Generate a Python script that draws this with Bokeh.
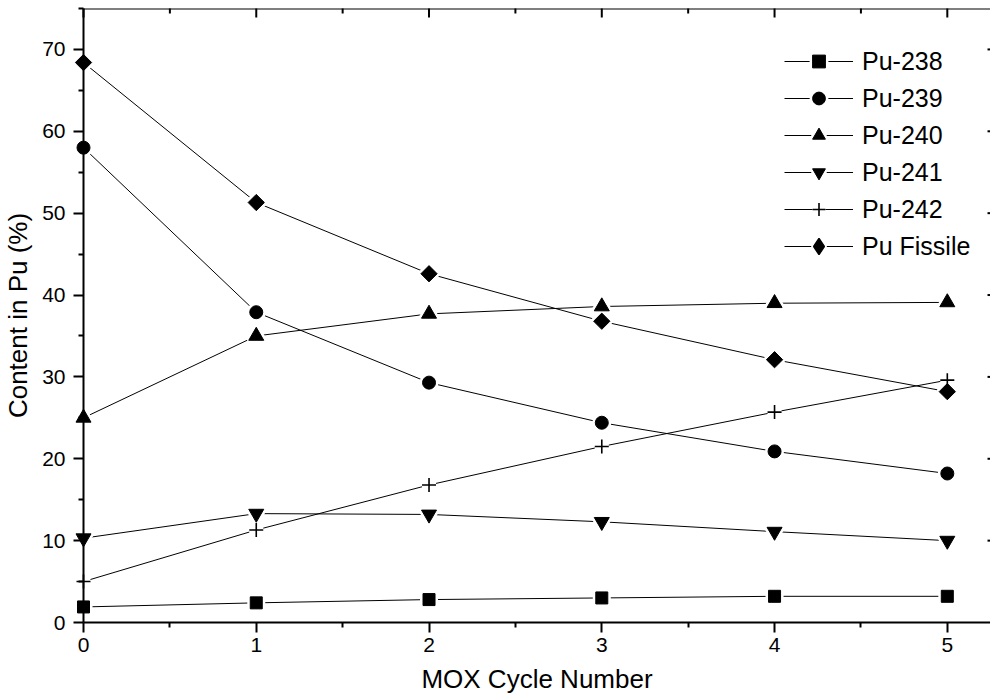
from bokeh.plotting import figure
from bokeh.models import Range1d, Legend, LegendItem, FixedTicker, Span
from bokeh.embed import file_html
from bokeh.resources import INLINE
import numpy as np

# Plutonium isotopic vector versus MOX recycling number
cycles = [0, 1, 2, 3, 4, 5]
pu238 = [1.9, 2.4, 2.8, 3.0, 3.2, 3.2]
pu239 = [58.0, 37.9, 29.3, 24.4, 20.9, 18.2]
pu240 = [25.0, 35.0, 37.7, 38.6, 39.0, 39.1]
pu241 = [10.3, 13.3, 13.2, 12.3, 11.1, 10.0]
pu242 = [5.0, 11.3, 16.8, 21.5, 25.7, 29.6]
pu_fissile = [68.4, 51.3, 42.6, 36.8, 32.1, 28.2]

series_names = ["Pu-238", "Pu-239", "Pu-240", "Pu-241", "Pu-242", "Pu Fissile"]
series_values = [pu238, pu239, pu240, pu241, pu242, pu_fissile]

# axis ticks
x_ticks = [0, 1, 2, 3, 4, 5]
x_minor_ticks = [0.5, 1.5, 2.5, 3.5, 4.5]
y_ticks = [0, 10, 20, 30, 40, 50, 60, 70]
y_minor_ticks = [5, 15, 25, 35, 45, 55, 65, 75]

X_MAX = 5.25
Y_MAX = 75

FONT = "Liberation Sans"

W, H = 990, 700
BORDER_L, BORDER_R, BORDER_T, BORDER_B = 82, 0, 8, 78
frame_w = W - BORDER_L - BORDER_R
frame_h = H - BORDER_T - BORDER_B
# data units per screen pixel, for the mirrored inner ticks
dx_px = X_MAX / frame_w
dy_px = Y_MAX / frame_h

p = figure(width=W, height=H, output_backend="svg", toolbar_location=None,
           x_range=Range1d(0, X_MAX), y_range=Range1d(0, Y_MAX),
           min_border_left=BORDER_L, min_border_right=BORDER_R,
           min_border_top=BORDER_T, min_border_bottom=BORDER_B)
p.xgrid.visible = False
p.ygrid.visible = False
p.outline_line_color = None
p.background_fill_color = "white"
p.border_fill_color = "white"

for ax in (p.xaxis[0], p.yaxis[0]):
    ax.axis_line_width = 2
    ax.major_tick_line_width = 2
    ax.minor_tick_line_width = 2
    ax.axis_line_color = "black"
    ax.major_tick_line_color = "black"
    ax.minor_tick_line_color = "black"
    ax.major_tick_out = 10
    ax.major_tick_in = 0
    ax.minor_tick_out = 5
    ax.minor_tick_in = 0
    ax.major_label_text_font = FONT
    ax.major_label_text_font_size = "21px"
    ax.major_label_text_color = "black"
    ax.axis_label_text_font = FONT
    ax.axis_label_text_font_size = "26px"
    ax.axis_label_text_font_style = "normal"
    ax.axis_label_text_color = "black"

xb = p.xaxis[0]
xb.ticker = FixedTicker(ticks=x_ticks, minor_ticks=x_minor_ticks)
xb.axis_label = "MOX Cycle Number"
xb.major_label_standoff = 5
xb.axis_label_standoff = 9

yl = p.yaxis[0]
yl.ticker = FixedTicker(ticks=y_ticks, minor_ticks=y_minor_ticks)
yl.axis_label = "Content in Pu (%)"
yl.major_label_standoff = 8
yl.axis_label_standoff = 6

# top frame line
p.add_layout(Span(location=Y_MAX, dimension="width", line_color="black",
                  line_width=2))

# inward ticks mirrored on the top and right edges
p.segment(x0=x_ticks, y0=[Y_MAX] * len(x_ticks),
          x1=x_ticks, y1=[Y_MAX - 9 * dy_px] * len(x_ticks),
          line_color="black", line_width=2, level="overlay")
p.segment(x0=x_minor_ticks, y0=[Y_MAX] * len(x_minor_ticks),
          x1=x_minor_ticks, y1=[Y_MAX - 5 * dy_px] * len(x_minor_ticks),
          line_color="black", line_width=2, level="overlay")
p.segment(x0=[X_MAX] * len(y_ticks[1:]), y0=y_ticks[1:],
          x1=[X_MAX - 3 * dx_px] * len(y_ticks[1:]), y1=y_ticks[1:],
          line_color="black", line_width=2, level="overlay")

# marker spec: (marker, size, angle)
markers = [
    ("square", 12, 0.0),
    ("circle", 13, 0.0),
    ("triangle", 15, 0.0),
    ("inverted_triangle", 15, 0.0),
    ("cross", 14, 0.0),
    ("square", 11.5, np.pi / 4),
]

lines, halos, points = [], [], []
for vals in series_values:
    lines.append(p.line(cycles, vals, line_color="black", line_width=1))
# white halos open a small gap in the connecting lines around each marker
for vals, (mk, sz, ang) in zip(series_values, markers):
    halos.append(p.scatter(cycles, vals, marker=mk, size=sz, angle=ang,
                           fill_color="white", line_color="white",
                           line_width=6))
for vals, (mk, sz, ang) in zip(series_values, markers):
    lw = 1.6 if mk == "cross" else 1
    points.append(p.scatter(cycles, vals, marker=mk, size=sz, angle=ang,
                            fill_color="black", line_color="black",
                            line_width=lw, level="overlay"))

# legend swatch for the fissile series uses the unrotated diamond shape
leg_halo = p.scatter(cycles, pu_fissile, marker="diamond", size=16,
                     fill_color="white", line_color="white", line_width=6,
                     visible=False)
leg_diamond = p.scatter(cycles, pu_fissile, marker="diamond", size=16,
                        fill_color="black", line_color="black",
                        line_width=1.5, visible=False)

legend_style = dict(glyph_width=69, spacing=5, padding=0, margin=0,
                    label_standoff=9, label_text_font=FONT,
                    label_text_font_size="25px", label_text_color="black",
                    border_line_alpha=0, background_fill_alpha=0)

items = [LegendItem(label=series_names[i],
                    renderers=[lines[i], halos[i], points[i]])
         for i in range(5)]
legend = Legend(items=items, location=(701, 397),
                glyph_height=32, label_height=32, **legend_style)
p.add_layout(legend)

# the fissile row gets a taller swatch so its diamond reads at full size
legend_fissile = Legend(items=[LegendItem(label=series_names[5],
                                          renderers=[lines[5], leg_halo,
                                                     leg_diamond])],
                        location=(701, 356),
                        glyph_height=40, label_height=40, **legend_style)
p.add_layout(legend_fissile)

open("out.html", "w").write(file_html(p, INLINE))
